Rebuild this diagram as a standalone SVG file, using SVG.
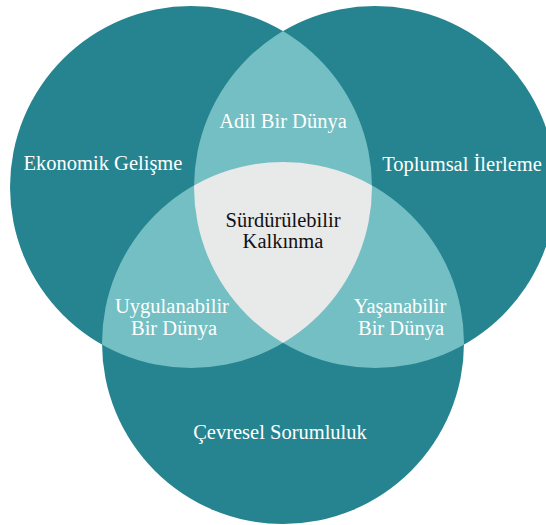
<svg xmlns="http://www.w3.org/2000/svg" width="546" height="525" viewBox="0 0 546 525">
<style>
.dark{fill:#25848F}
.light{fill:#73BFC3}
.core{fill:#E8E9E9}
text{font-family:"Liberation Serif","Times New Roman",serif;font-size:20.5px;text-anchor:middle}
.w{fill:#FFFFFF}
.k{fill:#111111}
</style>
<defs>
<clipPath id="cL"><circle cx="191" cy="187" r="181"/></clipPath>
<clipPath id="cR"><circle cx="375" cy="187" r="181"/></clipPath>
</defs>
<rect width="546" height="525" fill="#FFFFFF"/>
<g id="ekonomik">
<circle class="dark" cx="191" cy="187" r="181"/>
</g>
<g id="toplumsal">
<circle class="dark" cx="375" cy="187" r="181"/>
</g>
<g id="cevresel">
<circle class="dark" cx="283" cy="343" r="181"/>
</g>
<g id="adil">
<circle class="light" cx="375" cy="187" r="181" clip-path="url(#cL)"/>
</g>
<g id="uygulanabilir">
<circle class="light" cx="283" cy="343" r="181" clip-path="url(#cL)"/>
</g>
<g id="yasanabilir">
<circle class="light" cx="283" cy="343" r="181" clip-path="url(#cR)"/>
</g>
<g id="surdurulebilir">
<g clip-path="url(#cR)">
<circle class="core" cx="283" cy="343" r="181" clip-path="url(#cL)"/>
</g>
</g>
<g id="labels">
<text class="w" x="103" y="170">Ekonomik Gelişme</text>
<text class="w" x="462" y="171">Toplumsal İlerleme</text>
<text class="w" x="283" y="128">Adil Bir Dünya</text>
<text class="k" x="283" y="227">Sürdürülebilir</text>
<text class="k" x="283" y="248">Kalkınma</text>
<text class="w" x="172" y="313">Uygulanabilir</text>
<text class="w" x="174" y="335">Bir Dünya</text>
<text class="w" x="400" y="313">Yaşanabilir</text>
<text class="w" x="401" y="335">Bir Dünya</text>
<text class="w" x="280" y="439">Çevresel Sorumluluk</text>
</g>
<g id="connectors"/>
</svg>
